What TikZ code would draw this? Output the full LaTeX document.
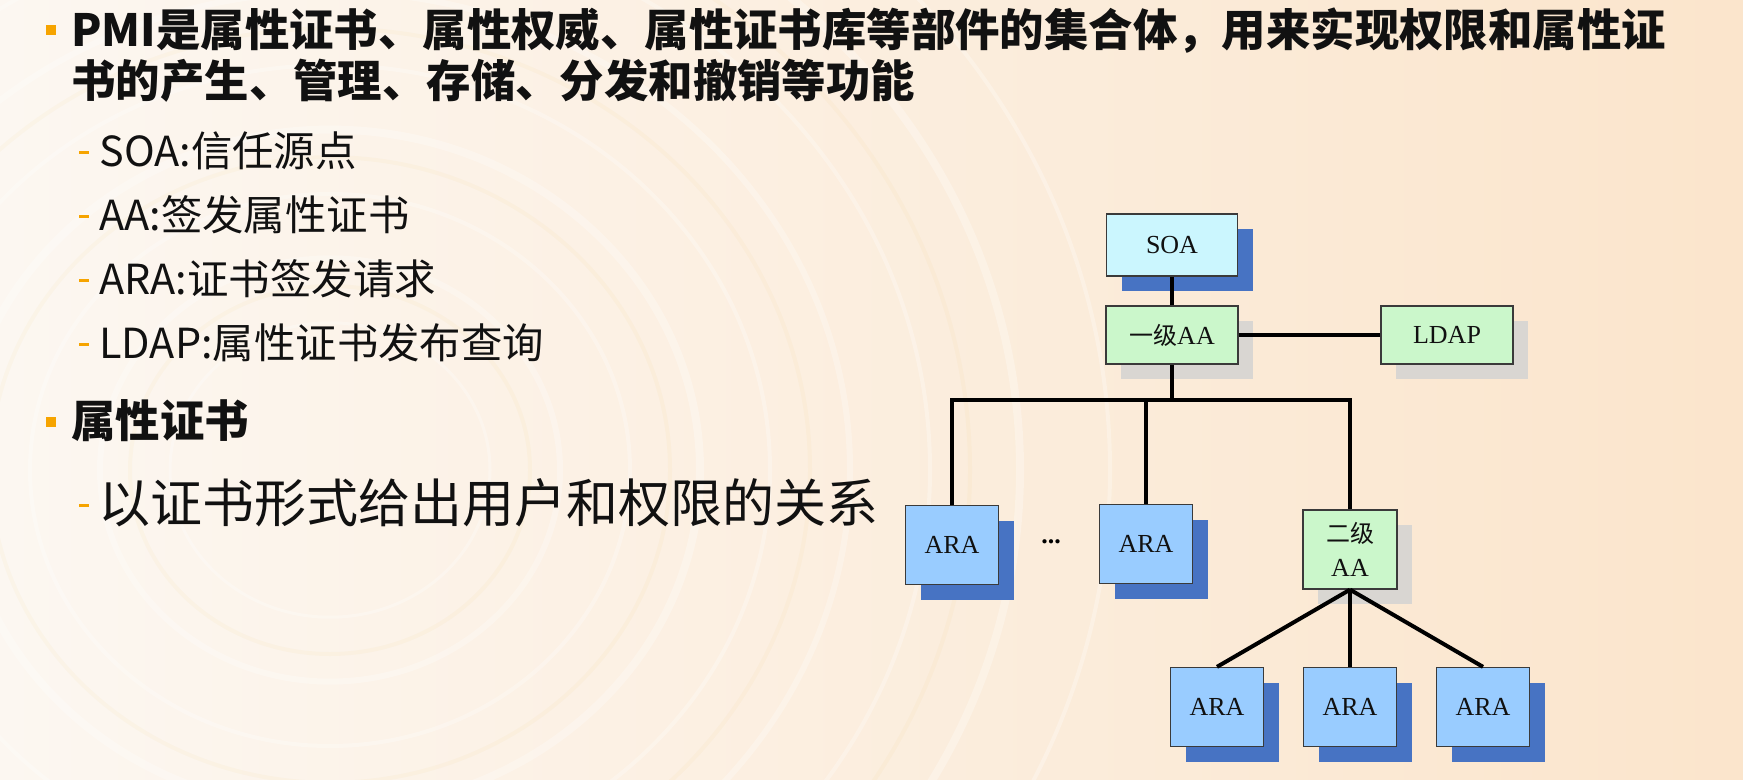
\documentclass[tikz,border=0pt]{standalone}
\usepackage{fontspec}
\setmainfont{Liberation Serif}
\newfontfamily\cjk{Noto Sans CJK SC}
\usetikzlibrary{shadows}
\definecolor{bgleft}{HTML}{FCF7F1}
\definecolor{bgright}{HTML}{FBE5CC}
\definecolor{orangemark}{HTML}{F6A400}
\definecolor{soafill}{HTML}{CBF6FE}
\definecolor{aafill}{HTML}{CBF7CB}
\definecolor{arafill}{HTML}{99CCFF}
\definecolor{shblue}{HTML}{4773C3}
\definecolor{shgray}{HTML}{D9D6D2}
\definecolor{boxline}{HTML}{3A3A3A}
\definecolor{txt}{HTML}{111111}
\begin{document}
\begin{tikzpicture}[x=0.5pt,y=-0.5pt,
  bulletsq/.style={fill=orangemark, inner sep=0pt, minimum width=4.6pt, minimum height=5.2pt},
  dashmark/.style={fill=orangemark, inner sep=0pt, minimum width=4.6pt, minimum height=1.5pt},
  titletxt/.style={anchor=base west, inner sep=0pt, text=txt, font=\cjk\bfseries\fontsize{22.2pt}{26pt}\selectfont},
  subtxt/.style={anchor=base west, inner sep=0pt, text=txt, font=\cjk\fontsize{20.7pt}{25pt}\selectfont},
  bigtxt/.style={anchor=base west, inner sep=0pt, text=txt, font=\cjk\fontsize{26pt}{31pt}\selectfont},
  boxbase/.style={draw=boxline, line width=0.65pt, inner sep=0pt, align=center, text=txt,
    font=\fontsize{13pt}{17pt}\selectfont},
  blueshadow/.style={drop shadow={shadow xshift=7.5pt, shadow yshift=-7.5pt, fill=shblue, draw=none, opacity=1}},
  grayshadow/.style={drop shadow={shadow xshift=7.5pt, shadow yshift=-7.5pt, fill=shgray, draw=none, opacity=1}},
  soabox/.style={boxbase, fill=soafill, minimum width=65.5pt, minimum height=31pt, blueshadow},
  aabox/.style={boxbase, fill=aafill, minimum width=66pt, minimum height=29pt, grayshadow},
  aa2box/.style={boxbase, fill=aafill, minimum width=47pt, minimum height=39.5pt, grayshadow},
  arabox/.style={boxbase, fill=arafill, minimum width=46.5pt, minimum height=39.5pt, blueshadow},
  conn/.style={draw=black, line width=2pt, line join=miter},
  ring/.style={draw=white, opacity=0.28}
]
\useasboundingbox (0,0) rectangle (1743,780);
% background
\shade[left color=bgleft, right color=bgright] (0,0) rectangle (1743,780);
\begin{scope}
\clip (0,0) rectangle (1743,780);
\foreach \r/\w in {160/1.5pt,230/3pt,300/2pt,370/4pt,440/2pt,520/3pt,600/2pt,690/4pt,780/2pt}{
  \draw[ring, line width=\w] (330,470) ellipse [x radius=\r*0.5pt, y radius=\r*0.46pt];
}
\foreach \r in {200,340,480,640}{
  \draw[draw=orangemark, opacity=0.035, line width=2pt] (330,470) ellipse [x radius=\r*0.5pt, y radius=\r*0.46pt];
}
\end{scope}

% text block
\node[bulletsq] (b1) at (51,30) {};
\node[titletxt] (t1) at (71,47) {PMI是属性证书、属性权威、属性证书库等部件的集合体，用来实现权限和属性证};
\node[titletxt] (t2) at (71,98) {书的产生、管理、存储、分发和撤销等功能};

\node[dashmark] (d1) at (84,153) {};
\node[subtxt] (s1) at (99,167) {SOA:信任源点};
\node[dashmark] (d2) at (84,217) {};
\node[subtxt] (s2) at (99,231) {AA:签发属性证书};
\node[dashmark] (d3) at (84,281) {};
\node[subtxt] (s3) at (99,295) {ARA:证书签发请求};
\node[dashmark] (d4) at (84,344) {};
\node[subtxt] (s4) at (99,358) {LDAP:属性证书发布查询};

\node[bulletsq] (b2) at (51,422) {};
\node[titletxt] (t3) at (71,437) {属性证书};
\node[dashmark] (d5) at (84,505) {};
\node[bigtxt] (t4) at (98,522) {以证书形式给出用户和权限的关系};

% diagram
\node[soabox] (soa) at (1172,245) {SOA};
\node[aabox] (aa1) at (1172,335) {{\cjk\fontsize{12pt}{14pt}\selectfont 一级}AA};
\node[aabox] (ldap) at (1447,335) {LDAP};
\node[arabox] (ara1) at (952,545) {ARA};
\node[arabox] (ara2) at (1146,544) {ARA};
\node[aa2box] (aa2) at (1350,549.5) {{\cjk\fontsize{12pt}{14pt}\selectfont 二级}\\AA};
\node[arabox] (ara3) at (1217,707) {ARA};
\node[arabox] (ara4) at (1350,707) {ARA};
\node[arabox] (ara5) at (1483,707) {ARA};
\node[inner sep=0pt, font=\bfseries\fontsize{13pt}{15pt}\selectfont] (dots) at (1051,542) {...};

\coordinate (bus) at (1172,400);
\draw[conn] (soa.south) -- (aa1.north);
\draw[conn] (aa1.east) -- (ldap.west);
\draw[conn] (aa1.south) -- (bus);
\draw[conn] (ara1.north) -- (ara1.north |- bus) -- (aa2.north |- bus) -- (aa2.north);
\draw[conn] (ara2.north) -- (ara2.north |- bus);
\draw[conn] (aa2.south) -- (ara3.north);
\draw[conn] (aa2.south) -- (ara4.north);
\draw[conn] (aa2.south) -- (ara5.north);
\end{tikzpicture}
\end{document}
